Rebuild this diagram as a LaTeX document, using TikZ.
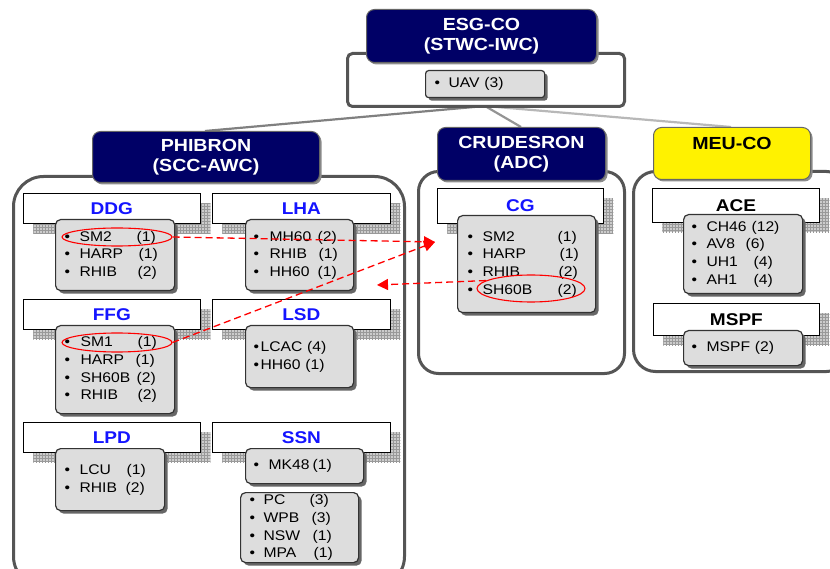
\documentclass[tikz,border=0pt]{standalone}
\usepackage{fontspec}
\setmainfont{Liberation Sans}[FakeStretch=1.12]
\usetikzlibrary{shapes.geometric,shadows,patterns,arrows.meta}
\definecolor{navy}{RGB}{0,0,102}
\definecolor{lblue}{RGB}{20,20,255}
\definecolor{itemgray}{RGB}{221,221,221}
\definecolor{framegray}{RGB}{85,85,85}
\newcommand\itm[4]{\makebox[#1pt][l]{\textbullet}\makebox[#2pt][l]{#3}#4}
\tikzset{
  container/.style={draw=framegray, line width=3pt, fill=white, rounded corners=#1, anchor=north west, inner sep=0pt},
  header/.style={draw=black!60, line width=1pt, fill=navy, text=white, font=\bfseries\fontsize{17.5}{20}\selectfont, align=center, rounded corners=8pt, anchor=north west, inner sep=0pt, drop shadow={shadow xshift=2pt,shadow yshift=-2pt,fill=black!45,opacity=1}},
  lbl/.style={draw=black, line width=0.8pt, fill=white, anchor=north west, inner sep=0pt, font=\bfseries\fontsize{17}{20}\selectfont, text=lblue,
    general shadow={shadow xshift=10pt, shadow yshift=-10pt, fill=black!20},
    general shadow={shadow xshift=10pt, shadow yshift=-10pt, pattern=grid, pattern color=black!40}},
  item/.style={draw=black!80, line width=1.2pt, fill=itemgray, rounded corners=5pt, anchor=north west, font=\fontsize{14}{17.6}\selectfont, align=left, inner ysep=0pt, drop shadow={shadow xshift=3pt,shadow yshift=-3pt,fill=black!60,opacity=1}},
  redring/.style={ellipse, draw=red, line width=1.1pt, inner sep=0pt},
  redarrow/.style={draw=red, line width=1.3pt, dash pattern=on 7pt off 4pt, -{Triangle[length=11pt,width=11pt]}},
  conn/.style={line width=2.2pt}
}
\begin{document}
\begin{tikzpicture}[x=1pt,y=-1pt]
\useasboundingbox (0,0) rectangle (830,569);
\clip (0,0) rectangle (830,569);

% connectors from ESG
\coordinate (esgroot) at (485,106);
\draw[conn, draw=black!50] (esgroot) -- (205,131) coordinate (phibtop);
\draw[conn, draw=black!42] (esgroot) -- (521,127) coordinate (crudtop);
\draw[conn, draw=black!28] (esgroot) -- (731,127) coordinate (meutop);

% containers
\node[container=5pt, minimum width=277, minimum height=53] (esgC) at (346,52) {};
\node[container=30pt, minimum width=391, minimum height=410] (phibC) at (12,175) {};
\node[container=20pt, minimum width=206, minimum height=202] (crudC) at (417,170) {};
\node[container=22pt, minimum width=215, minimum height=200] (meuC) at (632,170) {};

% headers
\node[header, minimum width=230, minimum height=53] (esg) at (366,9) {ESG-CO\\(STWC-IWC)};
\node[header, minimum width=227, minimum height=51] (phib) at (92,131) {PHIBRON\\(SCC-AWC)};
\node[header, minimum width=168, minimum height=53] (crud) at (437,127) {CRUDESRON\\(ADC)};
\node[header, fill=yellow, text=black, minimum width=157, minimum height=52] (meu) at (653,127) {MEU-CO\\\mbox{}};

% UAV
\node[item, rounded corners=3pt, minimum width=119, minimum height=27, inner xsep=9pt, text width=101pt] (uav) at (425,70) {\makebox[14pt][l]{\textbullet}UAV (3)};

% PHIBRON labels
\node[lbl, minimum width=177, minimum height=30] (ddg) at (23,193) {DDG};
\node[lbl, minimum width=178, minimum height=30] (lha) at (212,193) {LHA};
\node[lbl, minimum width=177, minimum height=30] (ffg) at (23,299) {FFG};
\node[lbl, minimum width=178, minimum height=30] (lsd) at (212,299) {LSD};
\node[lbl, minimum width=177, minimum height=30] (lpd) at (23,422) {LPD};
\node[lbl, minimum width=178, minimum height=30] (ssn) at (212,422) {SSN};

% PHIBRON items
\node[item, minimum width=119, minimum height=71, inner xsep=9pt, text width=101pt] (ddgI) at (55,219)
  {\itm{15}{57}{SM2}{(1)}\\\itm{15}{59}{HARP}{(1)}\\\itm{15}{58}{RHIB}{(2)}};
\node[item, minimum width=108, minimum height=71, inner xsep=8pt, text width=92pt] (lhaI) at (245,219)
  {\itm{16}{48}{MH60}{(2)}\\\itm{16}{49}{RHIB}{(1)}\\\itm{16}{48}{HH60}{(1)}};
\node[item, minimum width=119, minimum height=88, inner xsep=9pt, text width=101pt] (ffgI) at (55,325)
  {\itm{16}{57}{SM1}{(1)}\\\itm{16}{55}{HARP}{(1)}\\\itm{16}{56}{SH60B}{(2)}\\\itm{16}{57}{RHIB}{(2)}};
\node[item, minimum width=108, minimum height=62, inner xsep=8pt, text width=92pt] (lsdI) at (245,325)
  {\makebox[7pt][l]{\textbullet}LCAC (4)\\\makebox[7pt][l]{\textbullet}HH60 (1)};
\node[item, minimum width=109, minimum height=62, inner xsep=9pt, text width=91pt] (lpdI) at (55,448)
  {\itm{15}{47}{LCU}{(1)}\\\itm{15}{46}{RHIB}{(2)}};
\node[item, minimum width=118, minimum height=35, inner xsep=8pt, text width=102pt] (ssnI) at (245,448)
  {\itm{15}{44}{MK48}{(1)}};
\node[item, minimum width=118, minimum height=70, inner xsep=9pt, text width=100pt] (xtraI) at (240,492)
  {\itm{14}{46}{PC}{(3)}\\\itm{14}{48}{WPB}{(3)}\\\itm{14}{49}{NSW}{(1)}\\\itm{14}{50}{MPA}{(1)}};

% CRUDESRON
\node[lbl, minimum width=166, minimum height=35] (cg) at (437,188) {CG};
\node[item, minimum width=138, minimum height=97, inner xsep=10pt, text width=118pt] (cgI) at (457,215)
  {\itm{15}{75}{SM2}{(1)}\\\itm{15}{77}{HARP}{(1)}\\\itm{15}{76}{RHIB}{(2)}\\\itm{15}{75}{SH60B}{(2)}};

% MEU
\node[lbl, text=black, minimum width=167, minimum height=34] (ace) at (652,188) {ACE};
\node[item, minimum width=119, minimum height=79, inner xsep=8pt, text width=103pt] (aceI) at (683,214)
  {\itm{15}{45}{CH46}{(12)}\\\itm{15}{39}{AV8}{(6)}\\\itm{15}{47}{UH1}{(4)}\\\itm{15}{47}{AH1}{(4)}};
\node[lbl, text=black, minimum width=166, minimum height=32] (mspf) at (653,303) {MSPF};
\node[item, minimum width=119, minimum height=35, inner xsep=8pt, text width=103pt] (mspfI) at (683,330)
  {\makebox[15pt][l]{\textbullet}MSPF (2)};

% red rings
\node[redring, minimum width=110, minimum height=18] (sm2e) at (117,237) {};
\node[redring, minimum width=110, minimum height=19] (sm1e) at (117,342.5) {};
\node[redring, minimum width=108, minimum height=27] (sh60e) at (531,288.5) {};

% red arrows
\coordinate (tipA) at (435,242);
\coordinate (tipB) at (377,285);
\draw[redarrow] (sm2e.east) -- (tipA);
\draw[redarrow] (sm1e.east) -- (tipA);
\draw[redarrow] (sh60e.170) -- (tipB);
\end{tikzpicture}
\end{document}
